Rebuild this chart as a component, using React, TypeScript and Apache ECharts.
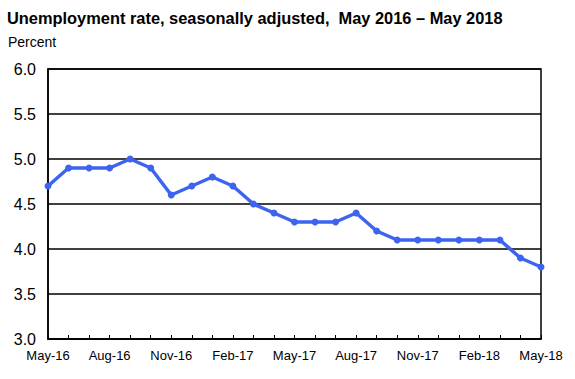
import React, { useEffect, useRef } from "react";
import * as echarts from "echarts";

const months = [
  "May-16", "Jun-16", "Jul-16", "Aug-16", "Sep-16", "Oct-16", "Nov-16", "Dec-16",
  "Jan-17", "Feb-17", "Mar-17", "Apr-17", "May-17", "Jun-17", "Jul-17", "Aug-17",
  "Sep-17", "Oct-17", "Nov-17", "Dec-17", "Jan-18", "Feb-18", "Mar-18", "Apr-18", "May-18",
];
const rate = [
  4.7, 4.9, 4.9, 4.9, 5.0, 4.9, 4.6, 4.7, 4.8, 4.7, 4.5, 4.4, 4.3, 4.3, 4.3, 4.4,
  4.2, 4.1, 4.1, 4.1, 4.1, 4.1, 4.1, 3.9, 3.8,
];
const titleText = "Unemployment rate, seasonally adjusted,  May 2016 \u2013 May 2018";
const unitText = "Percent";

export default function App() {
  const ref = useRef<HTMLDivElement>(null);
  useEffect(() => {
    const chart = echarts.init(ref.current!, null, { renderer: "svg" });
    chart.setOption({
      animation: false,
      backgroundColor: "#ffffff",
      textStyle: { fontFamily: "Liberation Sans, Arial, sans-serif" },
      title: [
        {
          text: titleText,
          left: 7,
          top: 10,
          padding: 0,
          textStyle: { fontSize: 16.4, fontWeight: "bold", color: "#000", fontFamily: "Liberation Sans, Arial, sans-serif" },
        },
        {
          text: unitText,
          left: 8,
          top: 35,
          padding: 0,
          textStyle: { fontSize: 14, fontWeight: "normal", color: "#000", fontFamily: "Liberation Sans, Arial, sans-serif" },
        },
      ],
      grid: {
        left: 48,
        right: 34,
        top: 69,
        bottom: 40,
        show: true,
        borderColor: "#000",
        borderWidth: 1.5,
      },
      xAxis: {
        type: "category",
        data: months,
        boundaryGap: false,
        axisLine: { show: true, lineStyle: { color: "#000", width: 1.5 } },
        axisTick: { show: true, inside: true, length: 4, interval: 0, lineStyle: { color: "#000" } },
        axisLabel: {
          interval: 2,
          color: "#000",
          fontSize: 13,
          margin: 10,
          fontFamily: "Liberation Sans, Arial, sans-serif",
        },
        splitLine: { show: false },
      },
      yAxis: {
        type: "value",
        min: 3.0,
        max: 6.0,
        interval: 0.5,
        axisLine: { show: true, lineStyle: { color: "#000", width: 1.5 } },
        axisTick: { show: false },
        axisLabel: {
          color: "#000",
          fontSize: 16,
          margin: 12,
          formatter: (v: number) => v.toFixed(1),
          fontFamily: "Liberation Sans, Arial, sans-serif",
        },
        splitLine: { show: true, lineStyle: { color: "#000", width: 1.5 } },
      },
      series: [
        {
          type: "line",
          data: rate,
          symbol: "circle",
          symbolSize: 7,
          lineStyle: { color: "#3C64F0", width: 3.5 },
          itemStyle: { color: "#3C64F0" },
          clip: false,
        },
      ],
    });
    return () => chart.dispose();
  }, []);
  return <div ref={ref} style={{ width: 575, height: 379, position: "absolute", left: 0, top: 0 }} />;
}
